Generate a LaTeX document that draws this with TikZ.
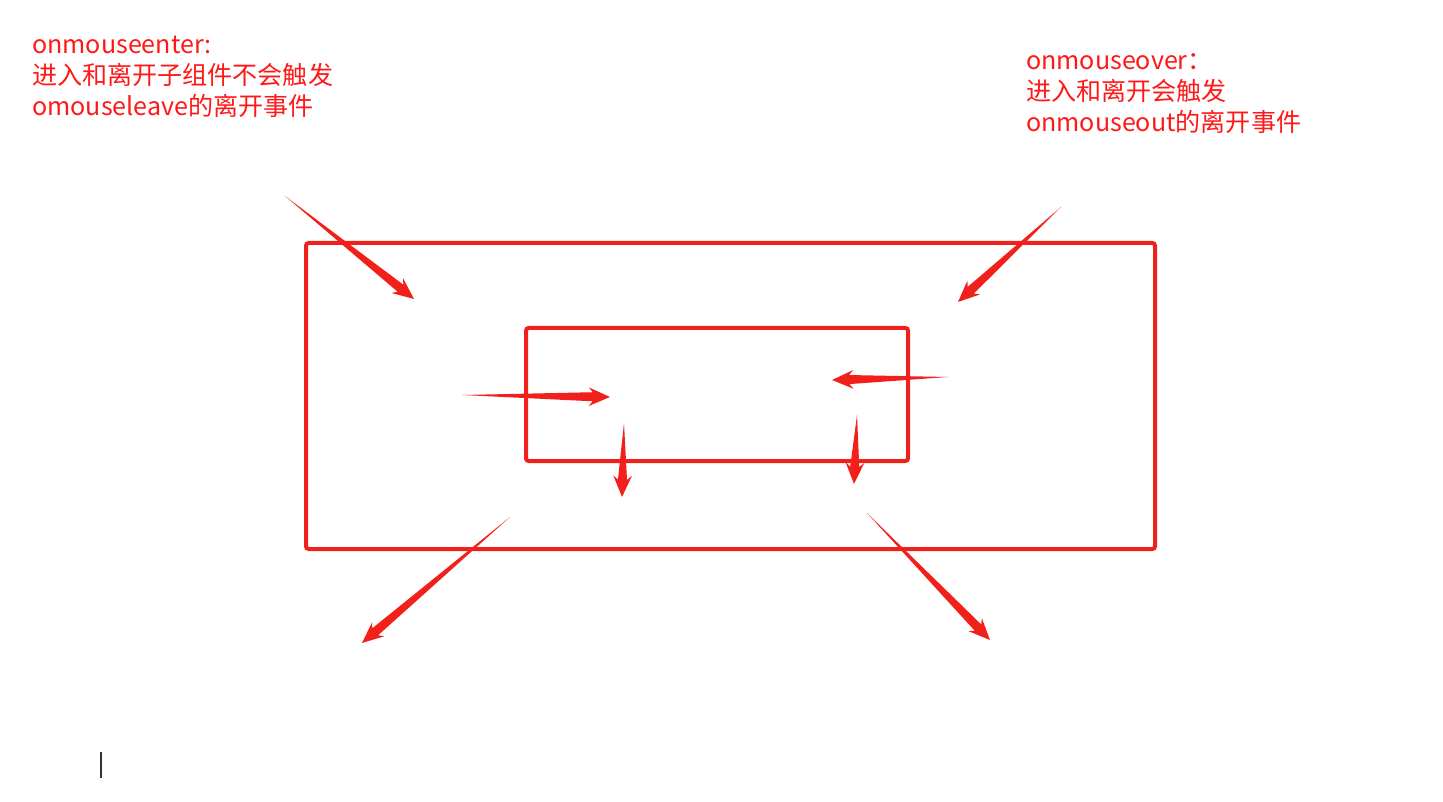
\documentclass[tikz,border=0pt]{standalone}
\usepackage{fontspec}
\newfontfamily\cjk{Noto Sans CJK SC}
\usetikzlibrary{calc}
\definecolor{txtred}{RGB}{255,24,24}
\definecolor{penred}{RGB}{242,32,26}
\newcommand\wedgearrow[2]{%
  \fill[wedge] (#1) -- ($(#2)!13pt!(#1)!3.4pt!90:(#2)$) -- ($(#2)!16pt!(#1)!7pt!90:(#2)$) -- (#2)
    -- ($(#2)!16pt!(#1)!7pt!-90:(#2)$) -- ($(#2)!13pt!(#1)!3.4pt!-90:(#2)$) -- cycle;}
\begin{document}
\begin{tikzpicture}[x=0.75pt,y=-0.75pt]
\tikzstyle{frame}=[draw=penred, line width=3pt, rounded corners=2pt]
\tikzstyle{wedge}=[fill=penred]
\tikzstyle{note}=[text=txtred, font=\cjk\fontsize{18.8}{23.25}\selectfont,
	align=left, anchor=north west, inner sep=0pt]
\useasboundingbox (0,0) rectangle (1443,802);
\node[note] (enter) at (32,36) {onmouseenter:\\进入和离开子组件不会触发\\omouseleave的离开事件};
\node[note] (over) at (1026,53) {onmouseover：\\进入和离开会触发\\onmouseout的离开事件};
\draw[frame] (306,243) rectangle (1155,549);
\draw[frame] (526,328) rectangle (908,461);
\coordinate (tlA) at (285,196);  \coordinate (tlB) at (414,299);
\coordinate (trA) at (1061,207); \coordinate (trB) at (958,302);
\coordinate (inA) at (462,395);  \coordinate (inB) at (610,397);
\coordinate (dlA) at (624,423);  \coordinate (dlB) at (622,497);
\coordinate (irA) at (948,377);  \coordinate (irB) at (832,380);
\coordinate (drA) at (857,415);  \coordinate (drB) at (854,484);
\coordinate (blA) at (510,517);  \coordinate (blB) at (362,643);
\coordinate (brA) at (867,513);  \coordinate (brB) at (990,640);
\wedgearrow{tlA}{tlB}
\wedgearrow{trA}{trB}
\wedgearrow{inA}{inB}
\wedgearrow{dlA}{dlB}
\wedgearrow{irA}{irB}
\wedgearrow{drA}{drB}
\wedgearrow{blA}{blB}
\wedgearrow{brA}{brB}
\draw[black!80, line width=1.5pt] (101,752) -- (101,778);
\end{tikzpicture}
\end{document}
